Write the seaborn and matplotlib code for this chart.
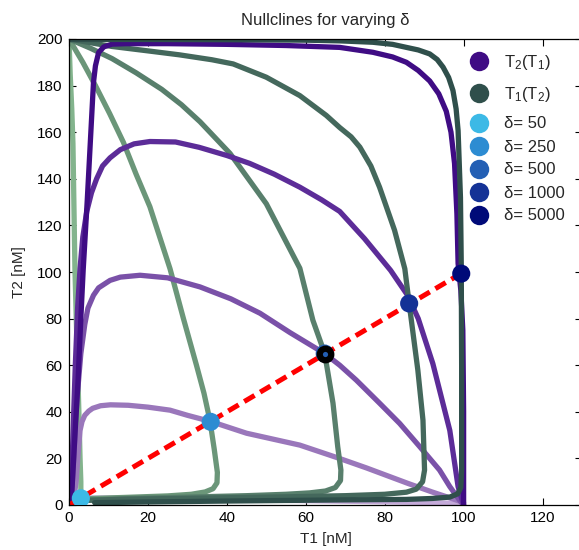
import matplotlib
matplotlib.use("Agg")
import matplotlib.pyplot as plt
import seaborn as sns
from matplotlib.lines import Line2D

# ---------------- data ----------------
deltas = [50, 250, 500, 1000, 5000]

# T2(T1) nullclines (purple), one per delta
P1_t1 = [0.3, 1.0, 2.0, 3.0, 10, 25, 40, 58, 75, 90, 100]
P1_t2 = [0, 1.5, 2.6, 3.0, 3.0, 2.8, 2.4, 1.9, 1.5, 1.1, 0.6]

P2_t1 = [1.0, 1.8, 2.3, 2.8, 3.3, 4.0, 5.0, 6.0, 8.0, 10.5, 15, 20, 25.6, 30, 36, 45, 58.5, 68, 75.4, 86, 92, 98.2, 100]
P2_t2 = [0, 10, 22, 32, 35.8, 38.5, 40.3, 41.5, 42.6, 43.0, 42.8, 42.0, 40.7, 38.5, 35.8, 30.8, 25.7, 20.3, 15.9, 9.2, 5.6, 2.1, 1.0]

P3_t1 = [0.5, 1.2, 2.0, 3.0, 4.0, 4.8, 6.2, 7.5, 10.4, 13, 18, 25, 33.2, 41, 48.4, 56, 64.8, 68.6, 72.8, 78.7, 83.8, 88.9, 93.9, 96.5, 99, 100]
P3_t2 = [0, 20, 45, 65, 77.5, 84.5, 90, 93.2, 96.4, 97.8, 98.6, 97.5, 93.6, 88.5, 82.3, 74, 65, 60, 53.6, 43.7, 35, 25, 15, 7.9, 2, 0]

P4_t1 = [0.5, 1.0, 1.6, 2.2, 2.8, 3.5, 4.5, 5.7, 7.0, 8.5, 10.4, 13, 16.5, 20.5, 27, 33, 40, 45.8, 52, 58.5, 64, 68.6, 74.9, 81.5, 85.8, 88.5, 92.2, 95, 96.5, 98.6, 100]
P4_t2 = [0, 30, 60, 85, 101.6, 115, 126, 134, 140, 145.5, 149, 152.5, 155, 156, 155.8, 153.5, 150, 146.6, 142, 136.4, 131, 126, 114.3, 100.7, 90, 80, 60.7, 42, 32, 7.9, 0]

P5_t1 = [0.5, 0.8, 1.5, 2.3, 3.0, 3.6, 4.6, 5.4, 6.2, 6.7, 7.5, 8.8, 10.9, 14.6, 25, 40, 55, 68.6, 77, 82, 85.5, 88.5, 91.4, 93.7, 95.6, 96.8, 97.7, 98.3, 98.6, 99.3, 99.8, 100, 100]
P5_t2 = [0, 8, 30, 53.6, 80, 101, 130, 155.6, 181.3, 188.5, 194.2, 196.6, 197.8, 198, 198, 197.7, 197.2, 196.4, 194.3, 192.3, 190, 186.5, 182, 176.5, 169, 160, 146.6, 125, 103.7, 92, 75, 40, 0]

# T1(T2) nullclines (green), one per delta
G1_t1 = [0, 0.3, 0.7, 1.0, 1.5, 2.0, 2.5, 2.8, 3.0, 3.0, 2.0, 0.8]
G1_t2 = [200, 185, 170, 155, 101.6, 70, 40, 20, 10, 3, 1.5, 0.5]

G2_t1 = [0, 3.5, 6.7, 10.3, 13.8, 17, 20.5, 25.6, 29, 32.3, 34.2, 35.7, 36.8, 37.6, 37.5, 36.5, 34.5, 31, 25, 15, 6, 2]
G2_t2 = [200, 190, 180, 168, 155.6, 142, 128, 101.4, 80, 60, 48, 36.4, 24, 14, 9.5, 7, 5.6, 4.6, 3.9, 3.3, 2.8, 2.0]

G3_t1 = [0, 5.5, 10.9, 17, 23.5, 28.5, 33.2, 40.8, 50, 58.5, 61.8, 64.8, 66.9, 68.1, 68.9, 68.8, 67.5, 65, 61, 55, 45, 30, 15, 4]
G3_t2 = [200, 196.0, 191.6, 185.5, 178.4, 171.8, 164.5, 150.9, 129.3, 101.6, 79.3, 65, 43.7, 25, 15, 10.5, 7.5, 6.0, 5.2, 4.6, 4.0, 3.4, 2.8, 2.0]

G4_t1 = [0, 10.9, 20, 28, 36.2, 41.6, 50, 58.5, 65.2, 68.6, 71.5, 73.7, 76.5, 78.7, 82.5, 85.1, 86.2, 88.4, 89.7, 90.1, 89.6, 88, 85.5, 80, 70, 55, 35, 15, 4]
G4_t2 = [200, 196.8, 194.9, 193.2, 191.1, 189.3, 183.6, 175.7, 167.2, 162, 158, 153.6, 145.5, 136.4, 117.9, 101.4, 86.5, 57.9, 36.4, 15, 10, 6.8, 5.5, 4.6, 4.0, 3.5, 3.0, 2.5, 2.0]

G5_t1 = [0, 20, 40, 60, 68.6, 77, 82, 85.5, 88.5, 91.4, 93.3, 94.8, 96.2, 97.3, 98.1, 98.6, 99.2, 99.4, 99.5, 99.5, 99.3, 98.5, 96.5, 92, 85.5, 70, 58, 40, 20, 6.5]
G5_t2 = [199.8, 199.8, 199.7, 199.5, 199.2, 198.6, 197.7, 196.4, 195.3, 193.6, 191.2, 187.9, 183.5, 177.9, 170, 160.7, 132, 103.6, 60, 15, 7.5, 4.8, 3.4, 2.8, 2.4, 2.2, 2.0, 1.7, 1.3, 1.0]

# diagonal T1 = T2
diag = [0, 100]

# fixed points for each delta
fp_t1 = [3.0, 35.9, 64.8, 86.2, 99.4]
fp_t2 = [2.9, 35.7, 65.0, 86.5, 99.3]

curve_labels = ["T$_2$(T$_1$)", "T$_1$(T$_2$)"]
delta_labels = ["δ= %d" % d for d in deltas]

# ---------------- style ----------------
purples = ["#c4aad9", "#9a77bb", "#7a51a8", "#5c2c98", "#3f0c84"]
greens = ["#83b48d", "#6b9679", "#587f6c", "#44685c", "#2f4f4b"]
delta_cols = ["#3cb9e6", "#2d8cd2", "#235fb4", "#143296", "#000a78"]

sns.set_theme(style="ticks")
plt.rcParams["font.family"] = ["Liberation Sans", "DejaVu Sans"]
plt.rcParams["mathtext.default"] = "regular"

fig = plt.figure(figsize=(5.79, 5.50), dpi=100)
ax = fig.add_axes([69 / 579, 45 / 550, 513 / 579, 466 / 550])

P = [(P1_t1, P1_t2), (P2_t1, P2_t2), (P3_t1, P3_t2), (P4_t1, P4_t2), (P5_t1, P5_t2)]
G = [(G1_t1, G1_t2), (G2_t1, G2_t2), (G3_t1, G3_t2), (G4_t1, G4_t2), (G5_t1, G5_t2)]

curve_kw = dict(sort=False, estimator=None, linewidth=3.8, ax=ax, legend=False,
                solid_joinstyle="round", solid_capstyle="round")
for i in range(5):
    sns.lineplot(x=P[i][0], y=P[i][1], color=purples[i], **curve_kw)
    sns.lineplot(x=G[i][0], y=G[i][1], color=greens[i], **curve_kw)

sns.lineplot(x=diag, y=diag, sort=False, estimator=None, color="red", linewidth=3.6,
             ax=ax, legend=False)
ax.lines[-1].set_dashes([2.4, 1.3])
ax.lines[-1].set_dash_capstyle("butt")

sns.scatterplot(x=fp_t1, y=fp_t2, hue=delta_labels, palette=delta_cols, s=170,
                linewidth=0, legend=False, ax=ax, zorder=5)
# the middle fixed point is marked with a black ring
sns.scatterplot(x=[fp_t1[2]], y=[fp_t2[2]], color="black", s=165, linewidth=0,
                legend=False, ax=ax, zorder=6)
sns.scatterplot(x=[fp_t1[2]], y=[fp_t2[2]], color=delta_cols[2], s=14, linewidth=0,
                legend=False, ax=ax, zorder=7)

ax.set_xlim(0, 130)
ax.set_ylim(0, 200)
ax.set_xticks(range(0, 121, 20))
ax.set_yticks(range(0, 201, 20))
ax.tick_params(direction="in", length=5, width=0.8, top=True, right=True,
               labelsize=11, pad=4.5, colors="black")
for s in ax.spines.values():
    s.set_visible(True)
    s.set_color("black")
    s.set_linewidth(0.9)

ax.set_xlabel("T1 [nM]", fontsize=11, labelpad=5)
ax.set_ylabel("T2 [nM]", fontsize=11, labelpad=8)
ax.set_title("Nullclines for varying δ", fontsize=12, pad=10)

def mk(c):
    return Line2D([], [], marker="o", linestyle="none", markersize=14,
                  markeredgewidth=0, color=c)

leg_kw = dict(loc="upper left", bbox_transform=fig.transFigure, frameon=False, fontsize=12,
              handlelength=1.6, handletextpad=0.7, borderpad=0, borderaxespad=0)
leg1 = ax.legend([mk(purples[4]), mk(greens[4])], curve_labels,
                 bbox_to_anchor=(466 / 579, 1 - 53 / 550), labelspacing=0.75, **leg_kw)
ax.add_artist(leg1)
ax.legend([mk(c) for c in delta_cols], delta_labels,
          bbox_to_anchor=(466 / 579, 1 - 116.5 / 550), labelspacing=0.48, **leg_kw)

fig.savefig("out.png", dpi=100)
